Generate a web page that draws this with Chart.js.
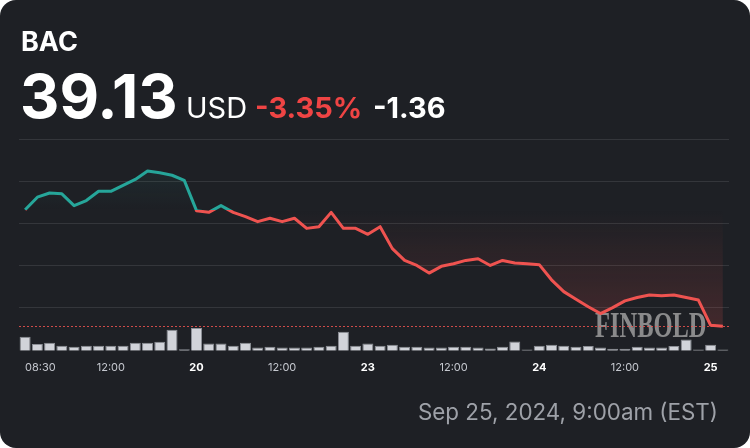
<!DOCTYPE html>
<html>
<head>
<meta charset="utf-8">
<script src="https://cdn.jsdelivr.net/npm/chart.js@4.4.1/dist/chart.umd.min.js"></script>
<style>
    html, body { margin: 0; padding: 0; background: #ffffff; }
    .card {
        position: relative;
        width: 750px;
        height: 448px;
        background: #1e2025;
        border-radius: 16px;
        overflow: hidden;
        font-family: Inter, 'Noto Sans', sans-serif;
    }
    #chartBox { position: absolute; left: 0; top: 0; width: 750px; height: 448px; }
    .txt { position: absolute; line-height: 1; white-space: nowrap; }
    .ticker { left: 21px; top: 28px; font-size: 27px; font-weight: 700; color: #ffffff; }
    .price { left: 20px; top: 66px; font-size: 61px; font-weight: 700; color: #ffffff; }
    .cur { left: 186px; top: 93px; font-size: 29px; font-weight: 400; color: #ffffff; }
    .pct { left: 255px; top: 93px; font-size: 29px; font-weight: 700; color: #ef4444; }
    .chg { left: 373px; top: 93px; font-size: 29px; font-weight: 700; color: #ffffff; }
    .stamp { right: 32px; top: 401px; font-size: 22.4px; font-weight: 400; color: #9ea1a8; }
</style>
</head>
<body>
<div class="card">
    <canvas id="chartBox" width="750" height="448"></canvas>
    <div class="txt ticker">BAC</div>
    <div class="txt price">39.13</div>
    <div class="txt cur">USD</div>
    <div class="txt pct">-3.35%</div>
    <div class="txt chg">-1.36</div>
    <div class="txt stamp">Sep 25, 2024, 9:00am (EST)</div>
</div>
<script>
// ========================================
// DATOS (30-min, 19-25 sep)
// ========================================
const sessionDays = ['19', '20', '23', '24', '25'];
const sessionTimes = ['08:30', '09:00', '09:30', '10:00', '10:30', '11:00', '11:30',
                      '12:00', '12:30', '13:00', '13:30', '14:00', '14:30', '15:00'];

const prices = [
    40.51, 40.66, 40.71, 40.70, 40.56, 40.62, 40.73, 40.73, 40.80, 40.87, 40.97, 40.95, 40.92, 40.86,
    40.50, 40.48, 40.56, 40.48, 40.43, 40.37, 40.41, 40.37, 40.41, 40.29, 40.31, 40.48, 40.29, 40.29,
    40.22, 40.31, 40.05, 39.91, 39.85, 39.76, 39.84, 39.87, 39.91, 39.93, 39.85, 39.91, 39.88, 39.87,
    39.86, 39.68, 39.54, 39.45, 39.36, 39.28, 39.35, 39.43, 39.47, 39.50, 39.49, 39.50, 39.47, 39.44,
    39.14, 39.13
];

// volumen en millones de acciones
const volumes = [
    2.10, 1.00, 1.20, 0.75, 0.60, 0.75, 0.75, 0.75, 0.75, 1.20, 1.20, 1.35, 3.15, 0.25,
    3.40, 1.10, 1.10, 0.75, 1.20, 0.50, 0.60, 0.50, 0.50, 0.50, 0.60, 0.75, 2.85, 0.75,
    1.10, 0.75, 0.90, 0.60, 0.60, 0.50, 0.50, 0.60, 0.60, 0.50, 0.35, 0.60, 1.40, 0.20,
    0.75, 0.90, 0.75, 0.60, 0.70, 0.50, 0.30, 0.30, 0.60, 0.50, 0.50, 0.70, 1.70, 0.20,
    0.90, 0.20
];

const priceGridLines = [39.35, 39.85, 40.35, 40.85, 41.35];
const priceMin = 38.838;
const priceMax = 41.35;
const volumeAxisMax = 31.65;

const GREEN = '#26a69a';
const RED = '#ef5350';

// etiquetas de categoria "dia hora"
const slots = [];
sessionDays.forEach(d => sessionTimes.forEach(t => slots.push(d + ' ' + t)));
const labels = slots.slice(0, prices.length);

function isDayTick(index) {
    return index > 0 && labels[index].split(' ')[1] === '08:30';
}

// ========================================
// GRADIENTES (verde sobre la apertura, rojo debajo)
// ========================================
function baselineFrac(chart) {
    const area = chart.chartArea;
    const y = chart.scales.y.getPixelForValue(prices[0]);
    return Math.min(1, Math.max(0, (y - area.top) / (area.bottom - area.top)));
}

function lineColor(context) {
    const chart = context.chart;
    if (!chart.chartArea || !chart.scales.y) return GREEN;
    const f = baselineFrac(chart);
    const g = chart.ctx.createLinearGradient(0, chart.chartArea.top, 0, chart.chartArea.bottom);
    g.addColorStop(0, GREEN);
    g.addColorStop(f, GREEN);
    g.addColorStop(f, RED);
    g.addColorStop(1, RED);
    return g;
}

function areaColor(context) {
    const chart = context.chart;
    if (!chart.chartArea || !chart.scales.y) return 'rgba(0,0,0,0)';
    const f = baselineFrac(chart);
    const g = chart.ctx.createLinearGradient(0, chart.chartArea.top, 0, chart.chartArea.bottom);
    g.addColorStop(0, 'rgba(38,166,154,0.14)');
    g.addColorStop(f, 'rgba(38,166,154,0)');
    g.addColorStop(f, 'rgba(239,83,80,0)');
    g.addColorStop(1, 'rgba(239,83,80,0.21)');
    return g;
}

// ========================================
// PLUGIN: marca de agua + linea del ultimo precio
// ========================================
const overlays = {
    id: 'overlays',
    beforeDatasetsDraw(chart) {
        const ctx = chart.ctx;
        ctx.save();
        ctx.font = 'bold 36px "Liberation Serif", "DejaVu Serif", serif';
        ctx.fillStyle = 'rgba(165,165,165,0.8)';
        ctx.textBaseline = 'alphabetic';
        ctx.translate(595, 337);
        ctx.scale(0.68, 1);
        ctx.fillText('FINBOLD', 0, 0);
        ctx.restore();
    },
    afterDatasetsDraw(chart) {
        const ctx = chart.ctx;
        const area = chart.chartArea;
        const y = Math.round(chart.scales.y.getPixelForValue(prices[prices.length - 1])) + 0.5;
        ctx.save();
        ctx.strokeStyle = 'rgba(239,83,80,0.85)';
        ctx.lineWidth = 1;
        ctx.setLineDash([2, 2]);
        ctx.beginPath();
        ctx.moveTo(area.left, y);
        ctx.lineTo(area.right, y);
        ctx.stroke();
        ctx.restore();
    }
};

// ========================================
// GRAFICO
// ========================================
const chart = new Chart(document.getElementById('chartBox').getContext('2d'), {
    data: {
        labels: labels,
        datasets: [
            {
                type: 'line',
                data: prices,
                yAxisID: 'y',
                borderColor: lineColor,
                backgroundColor: areaColor,
                borderWidth: 3,
                borderJoinStyle: 'round',
                pointRadius: 0,
                tension: 0,
                fill: { target: { value: prices[0] } },
                order: 0
            },
            {
                type: 'bar',
                data: volumes,
                yAxisID: 'yv',
                backgroundColor: '#d1d3d9',
                borderColor: '#8b8e95',
                borderWidth: 1,
                barPercentage: 0.9,
                categoryPercentage: 1,
                order: 1
            }
        ]
    },
    options: {
        responsive: false,
        animation: false,
        devicePixelRatio: 1,
        layout: { padding: { left: 19, right: 21, top: 139, bottom: 72 } },
        plugins: {
            legend: { display: false },
            tooltip: { enabled: false }
        },
        scales: {
            x: {
                type: 'category',
                offset: true,
                grid: { display: false },
                border: { display: false },
                ticks: {
                    autoSkip: false,
                    maxRotation: 0,
                    minRotation: 0,
                    padding: 2,
                    align: 'inner',
                    callback: function(value, index) {
                        const time = labels[index].split(' ')[1];
                        if (time === '08:30') return index === 0 ? '08:30' : labels[index].split(' ')[0];
                        if (time === '12:00') return '12:00';
                        return '';
                    },
                    font: function(c) {
                        return { family: 'Inter', size: 11, weight: isDayTick(c.index) ? '700' : '400' };
                    },
                    color: function(c) {
                        return isDayTick(c.index) ? '#ffffff' : '#c5c8cf';
                    }
                }
            },
            y: {
                position: 'left',
                min: priceMin,
                max: priceMax,
                afterBuildTicks: function(axis) {
                    axis.ticks = priceGridLines.map(v => ({ value: v }));
                },
                ticks: { display: false },
                grid: { color: 'rgba(255,255,255,0.1)', drawTicks: false },
                border: { display: false }
            },
            yv: {
                position: 'right',
                display: false,
                min: 0,
                max: volumeAxisMax
            }
        }
    },
    plugins: [overlays]
});
</script>
</body>
</html>
